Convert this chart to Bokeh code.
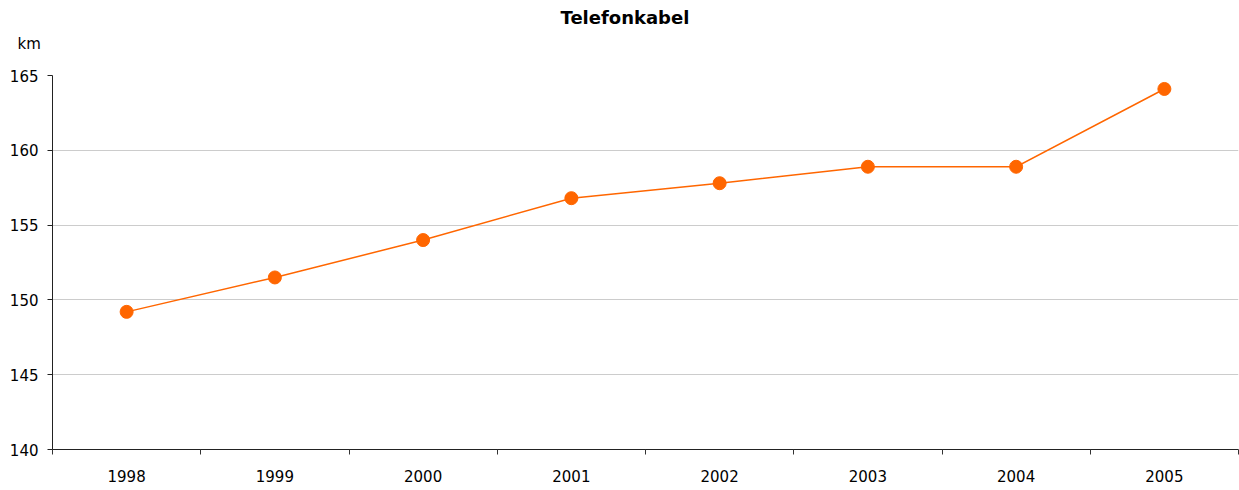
from bokeh.plotting import figure
from bokeh.models import Range1d, FixedTicker, Title
from bokeh.embed import file_html
from bokeh.resources import INLINE

years = ["1998", "1999", "2000", "2001", "2002", "2003", "2004", "2005"]
values = [149.2, 151.5, 154.0, 156.8, 157.8, 158.9, 158.9, 164.1]
y_ticks = [140, 145, 150, 155, 160, 165]
unit_label = "km"

xs = [i + 0.5 for i in range(len(years))]
bounds = list(range(len(years) + 1))

FONT = "DejaVu Sans"

p = figure(width=1239, height=490, output_backend="svg", toolbar_location=None,
           x_range=Range1d(0, len(years)), y_range=Range1d(140, 165),
           min_border_left=52, min_border_right=1, min_border_top=75, min_border_bottom=41)
p.title.text = "Telefonkabel"
p.title.align = "left"
p.title.offset = 508
p.title.text_font = FONT
p.title.text_font_size = "18px"
p.title.text_font_style = "bold"
p.title.text_color = "black"
p.title.standoff = -36

km = Title(text=unit_label, align="left", offset=-35, standoff=46, text_font=FONT,
           text_font_size="15px", text_font_style="normal", text_color="black")
p.add_layout(km, "above")

p.outline_line_color = None
p.background_fill_color = "white"

# x axis
p.xaxis.ticker = FixedTicker(ticks=xs, minor_ticks=bounds)
p.xaxis.major_label_overrides = {x: y for x, y in zip(xs, years)}
p.xaxis.major_tick_out = 0
p.xaxis.major_tick_in = 0
p.xaxis.minor_tick_out = 5
p.xaxis.minor_tick_in = 0
p.xaxis.minor_tick_line_color = "#333333"
p.xaxis.axis_line_color = "#222222"
p.xaxis.major_label_standoff = 15
p.xaxis.major_label_text_font = FONT
p.xaxis.major_label_text_font_size = "15px"
p.xaxis.major_label_text_color = "black"
p.xgrid.grid_line_color = None

# y axis
p.yaxis.ticker = FixedTicker(ticks=y_ticks)
p.yaxis.major_tick_out = 5
p.yaxis.major_tick_in = 0
p.yaxis.minor_tick_line_color = None
p.yaxis.axis_line_color = "#222222"
p.yaxis.major_tick_line_color = "#222222"
p.yaxis.major_label_standoff = 9
p.yaxis.major_label_text_font = FONT
p.yaxis.major_label_text_font_size = "15px"
p.yaxis.major_label_text_color = "black"
p.ygrid.grid_line_color = "#cccccc"
p.ygrid.grid_line_width = 1

p.line(xs, values, line_color="#FF6600", line_width=1.5)
p.scatter(xs, values, size=13, fill_color="#FF6600", line_color="#FF6600")

open("out.html", "w").write(file_html(p, INLINE))
